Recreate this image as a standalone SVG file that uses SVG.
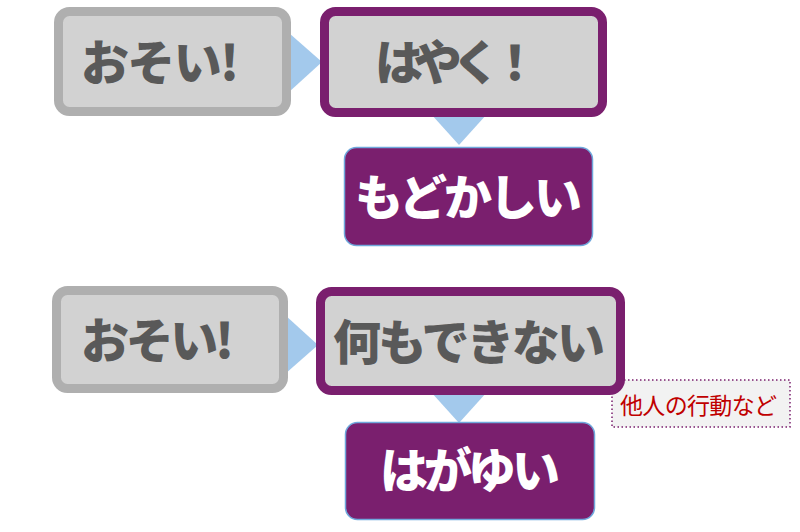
<svg xmlns="http://www.w3.org/2000/svg" width="800" height="532" viewBox="0 0 800 532">
  <style>
    .gbox { fill: #D2D2D2; stroke: #AFAFAF; stroke-width: 9; }
    .pbox { fill: #D2D2D2; stroke: #7A1F6E; stroke-width: 9; }
    .res { fill: #7A1F6E; stroke: #6FA8DC; stroke-width: 1.5; }
    .arrow { fill: #A3C9EC; }
    .t { font-family: "Noto Sans CJK JP", "Noto Sans", sans-serif; font-weight: 900; font-size: 48px; }
    .dark { fill: #595959; }
    .light { fill: #FFFFFF; }
    .note { fill: #F2F2F2; stroke: #7A1F6E; stroke-width: 1.5; stroke-dasharray: 1.5 2.5; }
    .notet { font-family: "Noto Sans CJK JP", "Noto Sans", sans-serif; font-size: 23px; fill: #C00000; }
  </style>
  <rect width="800" height="532" fill="#FFFFFF"/>
  <g id="connectors">
    <polygon class="arrow" points="289,33 289,92 322,62"/>
    <polygon class="arrow" points="431,114 487,114 459,145"/>
    <polygon class="arrow" points="285,315 285,374 318,345"/>
    <polygon class="arrow" points="431,392 487,392 459,423"/>
  </g>
  <g id="node-osoi-1">
    <rect class="gbox" x="58.5" y="11.5" width="228" height="100" rx="11"/>
    <text class="t dark" x="81" y="80" textLength="158" lengthAdjust="spacing">おそい!</text>
  </g>
  <g id="node-hayaku">
    <rect class="pbox" x="324.5" y="11.5" width="278" height="101" rx="11"/>
    <text class="t dark" x="375" y="80" textLength="164" lengthAdjust="spacing">はやく！</text>
  </g>
  <g id="node-modokashii">
    <rect class="res" x="344.5" y="147.5" width="248" height="98" rx="12"/>
    <text class="t light" x="355" y="215" font-size="46" textLength="227" lengthAdjust="spacing">もどかしい</text>
  </g>
  <g id="node-osoi-2">
    <rect class="gbox" x="56.5" y="290.5" width="227" height="98" rx="11"/>
    <text class="t dark" x="81" y="358" textLength="153" lengthAdjust="spacing">おそい!</text>
  </g>
  <g id="note-tanin">
    <rect class="note" x="612" y="380" width="178" height="47"/>
    <text class="notet" x="620" y="414" textLength="157" lengthAdjust="spacing">他人の行動など</text>
  </g>
  <g id="node-nanimo">
    <rect class="pbox" x="320.5" y="291.5" width="300" height="99" rx="11"/>
    <text class="t dark" x="333" y="360" textLength="272" lengthAdjust="spacing">何もできない</text>
  </g>
  <g id="node-hagayui">
    <rect class="res" x="345.5" y="422.5" width="249" height="97" rx="12"/>
    <text class="t light" x="380" y="488" textLength="180" lengthAdjust="spacing">はがゆい</text>
  </g>
</svg>
